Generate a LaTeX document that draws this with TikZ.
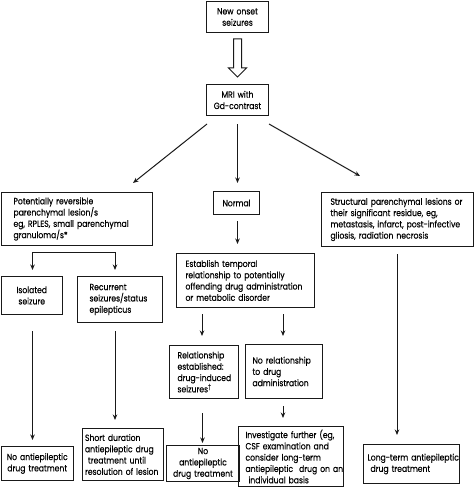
\documentclass[tikz,border=0pt]{standalone}
\usepackage{fontspec}
\setmainfont{Poppins}[FakeStretch=0.85,FakeBold=0.3]
\usetikzlibrary{arrows.meta,calc}
\newcommand{\Ln}[1]{\mbox{#1}}
\begin{document}
\begin{tikzpicture}[x=1pt,y=-1pt,
  box/.style={draw=black!90, line width=1pt, anchor=north west, inner ysep=0pt,
    text=black, font=\fontsize{9}{11.3}\selectfont},
  lbox/.style={box, align=left},
  cbox/.style={box, align=center, inner xsep=2pt},
  conn/.style={line width=1pt, draw=black!90, -{Stealth[length=5.5pt,width=4.5pt]}},
  hollow/.style={line width=1pt, draw=black!90, fill=white},
]
\useasboundingbox (0,0) rectangle (474,487);

% nodes
\node[cbox, text width=58pt, minimum height=31pt] (new) at (206,1) {\Ln{New onset}\\\Ln{seizures}};
\node[cbox, text width=58pt, minimum height=31pt] (mri) at (206,84) {\Ln{MRI with}\\\Ln{Gd-contrast}};
\node[lbox, inner xsep=12.5pt, text width=126.5pt, minimum height=53pt] (pot) at (0.5,192)
  {\Ln{Potentially reversible}\\\Ln{parenchymal lesion/s}\\\Ln{eg, RPLES, small parenchymal}\\\Ln{granuloma/s*}};
\node[cbox, text width=42pt, minimum height=23pt] (normal) at (213,191) {Normal};
\node[lbox, inner xsep=9pt, text width=134pt, minimum height=54pt] (struct) at (321,192)
  {\Ln{Structural parenchymal lesions or}\\\Ln{their significant residue, eg,}\\\Ln{metastasis, infarct, post-infective}\\\Ln{gliosis, radiation necrosis}};
\node[cbox, text width=57.5pt, minimum height=38pt] (isol) at (0.5,276) {\Ln{Isolated}\\\Ln{seizure}};
\node[lbox, inner xsep=12pt, text width=61pt, minimum height=46pt] (recur) at (77,276)
  {\Ln{Recurrent}\\\Ln{seizures/status}\\\Ln{epilepticus}};
\node[lbox, inner xsep=9pt, text width=120pt, minimum height=54pt] (estab) at (176,253)
  {\Ln{Establish temporal}\\\Ln{relationship to potentially}\\\Ln{offending drug administration}\\\Ln{or metabolic disorder}};
\node[lbox, inner xsep=8pt, text width=53pt, minimum height=53pt] (rel) at (169,345)
  {\Ln{Relationship}\\\Ln{established:}\\\Ln{drug-induced}\\\Ln{seizures\textsuperscript{†}}};
\node[lbox, inner xsep=7pt, text width=63pt, minimum height=54pt] (norel) at (245,344)
  {\Ln{No relationship}\\\Ln{to drug}\\\Ln{administration}};
\node[cbox, text width=68.5pt, minimum height=34pt] (noaed1) at (0.5,446) {\Ln{No antiepileptic}\\\Ln{drug treatment}};
\node[lbox, inner xsep=2.5pt, text width=76pt, minimum height=52pt] (short) at (82,428)
  {\Ln{Short duration}\\\Ln{antiepileptic drug}\\\Ln{\ treatment until}\\\Ln{resolution of lesion}};
\node[cbox, text width=69pt, minimum height=36pt] (noaed2) at (166,445) {\Ln{No}\\\Ln{antiepileptic}\\\Ln{drug treatment}};
\node[lbox, inner xsep=7pt, text width=91pt, minimum height=60pt] (invest) at (238,426)
  {\Ln{Investigate further (eg,}\\\Ln{CSF examination and}\\\Ln{consider long-term}\\\Ln{antiepileptic\ \ drug on an}\\\Ln{\ individual basis}};
\node[lbox, inner xsep=4pt, text width=88pt, minimum height=39pt] (long) at (363,444)
  {\Ln{Long-term antiepileptic}\\\Ln{\ drug treatment}};

% hollow arrow
\draw[hollow] ($(new.south)+(-4,6)$) -- ++(0,29) -- ++(-5,0) -- ($(mri.north)+(0,-7)$)
  -- ($(new.south)+(9,35)$) -- ++(-5,0) -- ($(new.south)+(4,6)$) -- cycle;

% connectors
\draw[conn] ($(mri.south west)+(1,8)$) -- ($(pot.north east)+(-20,-9)$);
\draw[conn] ($(mri.south)+(0,8)$) -- ($(mri.south |- normal.north)+(0,-8)$);
\draw[conn] ($(mri.south east)+(0,8)$) -- ($(struct.north west)+(39,-16)$);
\draw[conn, {Stealth[length=5.5pt,width=4.5pt]}-{Stealth[length=5.5pt,width=4.5pt]}]
  ($(isol.north)+(0.75,-6)$) -- ++(0,-18) -| ($(recur.north west)+(38,-6)$);
\draw[conn] ($(isol.south)+(0.75,16)$) -- ($(noaed1.north -| isol.south)+(0.75,-6)$);
\draw[conn] ($(recur.south west)+(38,8)$) -- ($(short.north -| recur.south west)+(38,-8)$);
\draw[conn] ($(normal.south)+(1,6)$) -- ($(estab.north -| normal.south)+(1,-9)$);
\draw[conn] ($(estab.south west)+(26,6)$) -- ($(rel.north -| estab.south west)+(26,-9)$);
\draw[conn] ($(estab.south west)+(107,6)$) -- ($(norel.north -| estab.south west)+(107,-8)$);
\draw[conn] ($(rel.south)+(-1.5,14)$) -- ($(noaed2.north -| rel.south)+(-1.5,-2)$);
\draw[conn] ($(norel.south west)+(38,7)$) -- ($(invest.north -| norel.south west)+(38,-8)$);
\draw[conn] ($(struct.south west)+(76,7)$) -- ($(long.north -| struct.south west)+(76,-9)$);
\end{tikzpicture}
\end{document}
